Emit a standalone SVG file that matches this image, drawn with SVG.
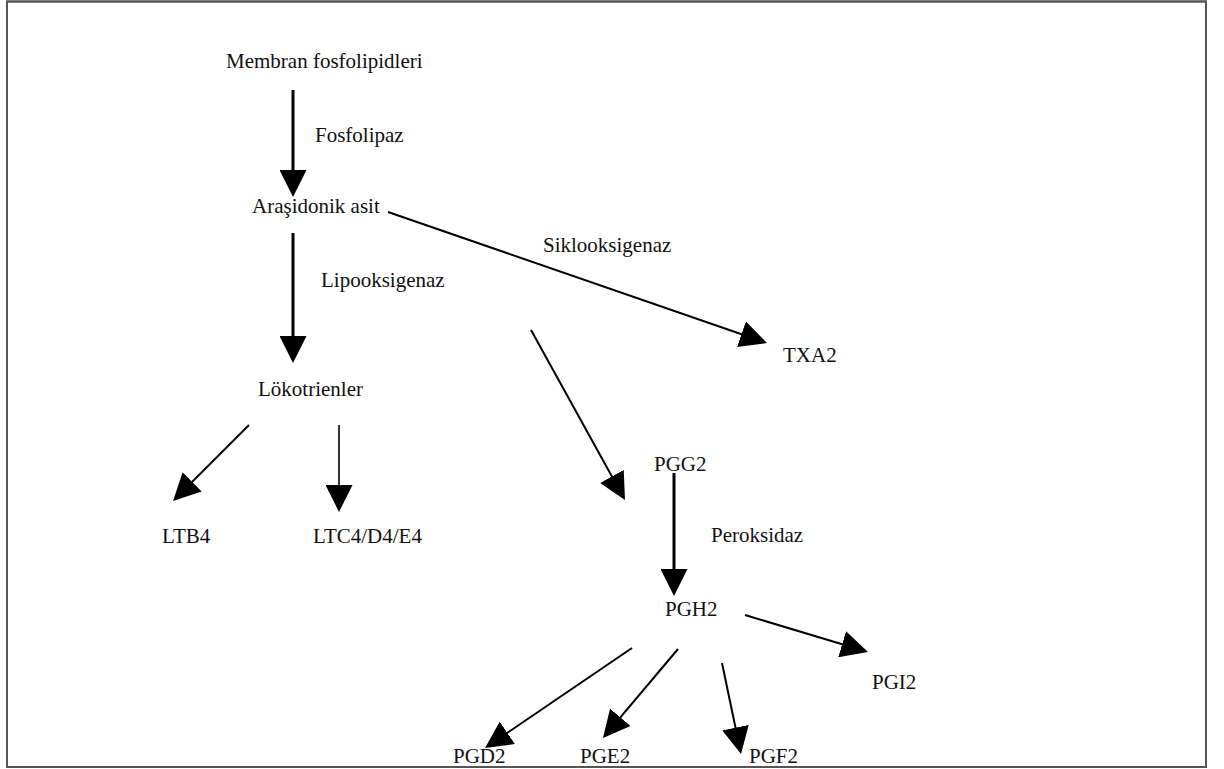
<svg xmlns="http://www.w3.org/2000/svg" width="1224" height="769" viewBox="0 0 1224 769">
<style>
text{font-family:"Liberation Serif","Times New Roman",serif;font-size:21px;fill:#111}
.c{fill:none;stroke:#000}
.w3{stroke-width:3}
.w2{stroke-width:2}
.w15{stroke-width:1.6}
</style>
<defs>
<marker id="ah" markerUnits="userSpaceOnUse" markerWidth="27" markerHeight="27" refX="20" refY="13.5" orient="auto" viewBox="0 0 27 27">
<path d="M0,0 L27,13.5 L0,27 Z" fill="#000"/>
</marker>
</defs>
<rect x="7" y="1.5" width="1199" height="765.5" fill="#fff" stroke="#555" stroke-width="2"/>
<g id="connectors">
<line class="c w3" x1="293" y1="90" x2="293" y2="190" marker-end="url(#ah)"/>
<line class="c w3" x1="293" y1="233" x2="293" y2="356" marker-end="url(#ah)"/>
<line class="c w2" x1="388" y1="212" x2="760.4" y2="340.7" marker-end="url(#ah)"/>
<line class="c w2" x1="531" y1="330" x2="621.6" y2="493.9" marker-end="url(#ah)"/>
<line class="c w2" x1="249" y1="425" x2="178" y2="496" marker-end="url(#ah)"/>
<line class="c w15" x1="339" y1="425" x2="339" y2="505" marker-end="url(#ah)"/>
<line class="c w3" x1="674" y1="473" x2="674" y2="589" marker-end="url(#ah)"/>
<line class="c w2" x1="745" y1="615" x2="861.3" y2="650" marker-end="url(#ah)"/>
<line class="c w2" x1="632" y1="648" x2="490.8" y2="744.1" marker-end="url(#ah)"/>
<line class="c w2" x1="678" y1="649" x2="607.5" y2="732.6" marker-end="url(#ah)"/>
<line class="c w2" x1="722" y1="663" x2="739.6" y2="747.2" marker-end="url(#ah)"/>
<text x="315" y="142">Fosfolipaz</text>
<text x="321" y="287">Lipooksigenaz</text>
<text x="543" y="252">Siklooksigenaz</text>
<text x="711" y="542">Peroksidaz</text>
</g>
<g id="membran"><text x="226" y="68">Membran fosfolipidleri</text></g>
<g id="arasidonik"><text x="252" y="213">Araşidonik asit</text></g>
<g id="lokotrienler"><text x="258" y="396">Lökotrienler</text></g>
<g id="txa2"><text x="783" y="362">TXA2</text></g>
<g id="ltb4"><text x="162" y="543">LTB4</text></g>
<g id="ltc4"><text x="313" y="543">LTC4/D4/E4</text></g>
<g id="pgg2"><text x="654" y="471">PGG2</text></g>
<g id="pgh2"><text x="665" y="616">PGH2</text></g>
<g id="pgi2"><text x="872" y="689">PGI2</text></g>
<g id="pgd2"><text x="453" y="763">PGD2</text></g>
<g id="pge2"><text x="580" y="763">PGE2</text></g>
<g id="pgf2"><text x="749" y="763">PGF2</text></g>
<rect x="7" y="1.5" width="1199" height="765.5" fill="none" stroke="#555" stroke-width="2"/>
</svg>
